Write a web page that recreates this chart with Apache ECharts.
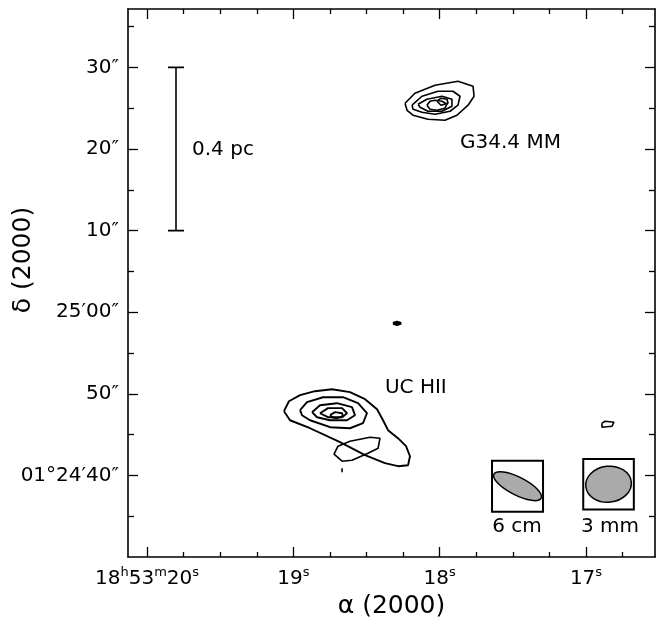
<!DOCTYPE html>
<html>
<head>
<meta charset="utf-8">
<title>G34.4 contour map</title>
<script src="https://cdn.jsdelivr.net/npm/echarts@6/dist/echarts.min.js"></script>
<style>
  html, body { margin: 0; padding: 0; background: #fff; }
  #chart { width: 666px; height: 629px; }
</style>
</head>
<body>
<div id="chart"></div>
<script>
// x: RA seconds of time after 18h53m, y: Dec arcsec offset from +01°25'00"
const raRange = [16.5285, 20.13];
const decRange = [-30, 37.16];
const raMajorTicks = [17, 18, 19, 20];
const raMinorTicks = [16.75, 17.25, 17.5, 17.75, 18.25, 18.5, 18.75, 19.25, 19.5, 19.75];
const raTickLabels = ['17{s|s}', '18{s|s}', '19{s|s}', '18{s|h}53{s|m}20{s|s}'];
const decMajorTicks = [-20, -10, 0, 10, 20, 30];
const decMinorTicks = [-25, -15, -5, 5, 15, 25, 35];
const decTickLabels = ['01°24′40″', '50″', '25′00″', '10″', '20″', '30″'];

// G34.4 MM contours (outer -> inner)
const mm1 = [[18.237,25.61],[18.169,26.84],[18.032,27.82],[17.875,28.31],[17.772,27.70],[17.765,26.47],[17.806,25.37],[17.882,24.14],[17.964,23.53],[18.080,23.65],[18.182,24.14],[18.223,24.75],[18.237,25.61]];
const mm2 = [[18.189,25.37],[18.121,26.47],[18.011,27.08],[17.909,27.08],[17.861,26.47],[17.875,25.37],[17.929,24.63],[18.032,24.26],[18.121,24.51],[18.182,24.88],[18.189,25.37]];
const mm3 = [[18.148,25.49],[18.087,26.10],[17.984,26.47],[17.916,26.10],[17.916,25.25],[17.984,24.63],[18.080,24.63],[18.134,25.12],[18.148,25.49]];
const mm4 = [[18.087,25.37],[18.066,25.86],[18.032,25.98],[17.984,25.86],[17.950,25.49],[17.964,25.00],[18.018,24.75],[18.066,24.88],[18.087,25.37]];
const mm5 = [[18.018,25.86],[17.991,26.23],[17.950,26.10],[17.943,25.61],[17.991,25.37],[18.018,25.86]];

// UC HII contours (outer -> inner)
const uc1 = [[19.064,-12.13],[19.030,-10.91],[18.954,-10.17],[18.852,-9.68],[18.736,-9.44],[18.613,-9.80],[18.510,-10.66],[18.428,-11.89],[18.387,-13.24],[18.353,-14.46],[18.285,-15.44],[18.230,-16.42],[18.203,-17.65],[18.216,-18.75],[18.285,-18.87],[18.374,-18.50],[18.510,-17.52],[18.681,-15.93],[18.886,-14.22],[19.023,-13.24],[19.064,-12.13]];
const uc2 = [[18.954,-12.01],[18.907,-11.03],[18.797,-10.42],[18.661,-10.42],[18.558,-11.15],[18.497,-12.38],[18.524,-13.60],[18.613,-14.22],[18.749,-14.09],[18.886,-13.24],[18.941,-12.62],[18.954,-12.01]];
const uc3 = [[18.872,-12.25],[18.818,-11.40],[18.702,-11.15],[18.599,-11.64],[18.579,-12.62],[18.633,-13.24],[18.749,-13.24],[18.838,-12.87],[18.872,-12.25]];
const uc4 = [[18.818,-12.38],[18.763,-11.76],[18.667,-11.76],[18.633,-12.38],[18.667,-12.87],[18.763,-12.87],[18.818,-12.38]];
const uc5 = [[18.749,-12.62],[18.715,-12.25],[18.667,-12.38],[18.661,-12.75],[18.702,-12.99],[18.736,-12.87],[18.749,-12.62]];
const ucSouth = [[18.695,-16.42],[18.613,-15.81],[18.476,-15.32],[18.408,-15.44],[18.421,-16.67],[18.490,-17.28],[18.599,-18.14],[18.667,-18.26],[18.722,-17.40],[18.695,-16.42]];

// small isolated contours
const blobMid = [[18.319,-1.35],[18.292,-1.20],[18.264,-1.35],[18.292,-1.55],[18.319,-1.35]];
const blobDot = [[18.667,-19.12],[18.667,-19.61]];
const blobEast = [[16.891,-13.60],[16.870,-13.36],[16.809,-13.48],[16.822,-13.97],[16.891,-14.09],[16.891,-13.60]];

// 0.4 pc scale bar
const scaleBar = [[19.857,30],[19.747,30],[19.802,30],[19.802,10],[19.857,10],[19.747,10]];

// beams: ra, dec, bmaj("), bmin("), PA(deg), box side(")
const beams = [[17.468,-21.32,6.5,2.2,63,6.25],[16.846,-21.08,5.6,4.4,96,6.2]];

// annotations
const textPos = [[19.6925, 19.85], [17.861, 20.71], [18.374, -9.31], [17.4715, -26.35], [16.836, -26.35]];
const textStr = ['0.4 pc', 'G34.4 MM', 'UC HII', '6 cm', '3 mm'];
const textAlign = ['left', 'left', 'left', 'center', 'center'];

const FONT = 'DejaVu Sans';

function contour(data, width) {
  return {
    type: 'line', data: data, showSymbol: false, symbol: 'none',
    lineStyle: { color: '#000', width: width || 1.6 }, silent: true, z: 3
  };
}

function xAx(pos, ticks, len, withLine, withLabels) {
  return {
    type: 'value', position: pos, min: raRange[0], max: raRange[1], inverse: true,
    splitLine: { show: false },
    axisLine: { show: withLine, onZero: false, lineStyle: { color: '#000', width: 1.6 } },
    axisTick: { show: true, inside: true, length: len, customValues: ticks, lineStyle: { color: '#000', width: 1.3 } },
    axisLabel: withLabels ? {
      show: true, customValues: raMajorTicks, margin: 9,
      formatter: v => raTickLabels[raMajorTicks.indexOf(v)] || '',
      color: '#000', fontFamily: FONT, fontSize: 20, lineHeight: 26,
      rich: {
        s: { fontSize: 13, fontFamily: FONT, color: '#000', verticalAlign: 'top', lineHeight: 13 }
      }
    } : { show: false },
    name: withLabels ? 'α (2000)' : '', nameLocation: 'middle', nameGap: 37, nameMoveOverlap: false,
    nameTextStyle: { color: '#000', fontFamily: FONT, fontSize: 25 }
  };
}

function yAx(pos, ticks, len, withLine, withLabels) {
  return {
    type: 'value', position: pos, min: decRange[0], max: decRange[1],
    splitLine: { show: false },
    axisLine: { show: withLine, onZero: false, lineStyle: { color: '#000', width: 1.6 } },
    axisTick: { show: true, inside: true, length: len, customValues: ticks, lineStyle: { color: '#000', width: 1.3 } },
    axisLabel: withLabels ? {
      show: true, customValues: decMajorTicks, margin: 9,
      formatter: v => decTickLabels[decMajorTicks.indexOf(v)] || '',
      color: '#000', fontFamily: FONT, fontSize: 20
    } : { show: false },
    name: withLabels ? 'δ (2000)' : '', nameLocation: 'middle', nameGap: 92, nameRotate: 90,
    nameMoveOverlap: false,
    nameTextStyle: { color: '#000', fontFamily: FONT, fontSize: 25, padding: [0, 0, 0, 46] }
  };
}

const chart = echarts.init(document.getElementById('chart'), null, { renderer: 'canvas' });

chart.setOption({
  animation: false,
  backgroundColor: '#fff',
  grid: { left: 128, right: 11, top: 9, bottom: 72, containLabel: false, outerBoundsMode: 'none' },
  xAxis: [
    xAx('bottom', raMajorTicks, 10, true, true),
    xAx('bottom', raMinorTicks, 5, false, false),
    xAx('top', raMajorTicks, 10, true, false),
    xAx('top', raMinorTicks, 5, false, false)
  ],
  yAxis: [
    yAx('left', decMajorTicks, 10, true, true),
    yAx('left', decMinorTicks, 6, false, false),
    yAx('right', decMajorTicks, 10, true, false),
    yAx('right', decMinorTicks, 6, false, false)
  ],
  series: [
    contour(mm1), contour(mm2), contour(mm3), contour(mm4), contour(mm5),
    contour(uc1, 1.9), contour(uc2, 1.9), contour(uc3, 1.9), contour(uc4, 1.9), contour(uc5, 1.9),
    contour(ucSouth), contour(blobMid, 2.5), contour(blobDot, 1.6), contour(blobEast),
    contour(scaleBar, 1.6),
    {
      type: 'custom', data: beams, silent: true, z: 4,
      renderItem: function (params, api) {
        const c = api.coord([api.value(0), api.value(1)]);
        const pxPerArcsec = api.size([0, 1])[1];
        const box = api.value(5) * pxPerArcsec;
        return {
          type: 'group',
          children: [
            {
              type: 'rect',
              shape: { x: c[0] - box / 2, y: c[1] - box / 2, width: box, height: box },
              style: { fill: 'none', stroke: '#000', lineWidth: 2 }
            },
            {
              type: 'ellipse',
              x: c[0], y: c[1],
              rotation: (api.value(4) - 90) * Math.PI / 180,
              shape: { cx: 0, cy: 0, rx: api.value(2) / 2 * pxPerArcsec, ry: api.value(3) / 2 * pxPerArcsec },
              style: { fill: '#aaaaaa', stroke: '#000', lineWidth: 1.5 }
            }
          ]
        };
      }
    },
    {
      type: 'custom', data: textPos, silent: true, z: 5,
      renderItem: function (params, api) {
        const c = api.coord([api.value(0), api.value(1)]);
        return {
          type: 'text', x: c[0], y: c[1],
          style: {
            text: textStr[params.dataIndex], fill: '#000',
            fontFamily: FONT, fontSize: 20,
            align: textAlign[params.dataIndex], verticalAlign: 'middle'
          }
        };
      }
    }
  ]
});
</script>
</body>
</html>
